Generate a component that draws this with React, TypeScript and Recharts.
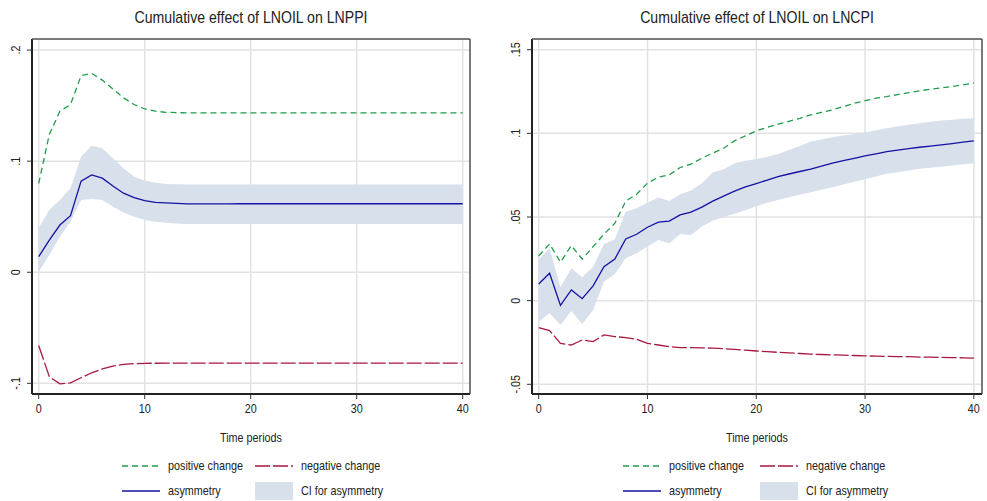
import React from 'react';
import { ComposedChart, Line, Area, XAxis, YAxis, CartesianGrid } from 'recharts';

const FONT = '"Liberation Sans", Arial, sans-serif';
const NARROW = 0.83; // the source uses a condensed face

const periods = [
  0, 1, 2, 3, 4, 5, 6, 7, 8, 9, 10, 11, 12, 13, 14, 15, 16, 17, 18, 19, 20,
  21, 22, 23, 24, 25, 26, 27, 28, 29, 30, 31, 32, 33, 34, 35, 36, 37, 38, 39, 40,
];
const xTicks = [0, 10, 20, 30, 40];

// LNPPI panel
const ppiPositive = [
  0.080, 0.124, 0.145, 0.151, 0.177, 0.179, 0.173, 0.165, 0.157, 0.151, 0.147,
  0.145, 0.144, 0.1437, 0.1435, 0.1435, 0.1435, 0.1435, 0.1435, 0.1435, 0.1435,
  0.1435, 0.1435, 0.1435, 0.1435, 0.1435, 0.1435, 0.1435, 0.1435, 0.1435, 0.1435,
  0.1435, 0.1435, 0.1435, 0.1435, 0.1435, 0.1435, 0.1435, 0.1435, 0.1435, 0.1435,
];
const ppiNegative = [
  -0.066, -0.094, -0.1005, -0.0995, -0.095, -0.0905, -0.087, -0.0845, -0.083, -0.0823, -0.082,
  -0.0819, -0.0818, -0.0818, -0.0818, -0.0818, -0.0818, -0.0818, -0.0818, -0.0818, -0.0818,
  -0.0818, -0.0818, -0.0818, -0.0818, -0.0818, -0.0818, -0.0818, -0.0818, -0.0818, -0.0818,
  -0.0818, -0.0818, -0.0818, -0.0818, -0.0818, -0.0818, -0.0818, -0.0818, -0.0818, -0.0818,
];
const ppiAsym = [
  0.014, 0.029, 0.0425, 0.051, 0.082, 0.0877, 0.0847, 0.0777, 0.0712, 0.0672, 0.0645,
  0.063, 0.0625, 0.062, 0.0615, 0.0615, 0.0615, 0.0615, 0.0615, 0.0617, 0.0617,
  0.0617, 0.0617, 0.0617, 0.0617, 0.0617, 0.0617, 0.0617, 0.0617, 0.0617, 0.0617,
  0.0617, 0.0617, 0.0617, 0.0617, 0.0617, 0.0617, 0.0617, 0.0617, 0.0617, 0.0617,
];
const ppiCiHigh = [
  0.040, 0.056, 0.065, 0.0757, 0.104, 0.1138, 0.1117, 0.1027, 0.0937, 0.086, 0.0825,
  0.0805, 0.0795, 0.0792, 0.079, 0.079, 0.079, 0.079, 0.079, 0.079, 0.079,
  0.079, 0.079, 0.079, 0.079, 0.079, 0.079, 0.079, 0.079, 0.079, 0.079,
  0.079, 0.079, 0.079, 0.079, 0.079, 0.079, 0.079, 0.079, 0.079, 0.079,
];
const ppiCiLow = [
  0.0005, 0.0156, 0.032, 0.0456, 0.065, 0.066, 0.065, 0.059, 0.0537, 0.050, 0.047,
  0.0455, 0.0445, 0.044, 0.0435, 0.0435, 0.0435, 0.0435, 0.0435, 0.0435, 0.0435,
  0.0435, 0.0435, 0.0435, 0.0435, 0.0435, 0.0435, 0.0435, 0.0435, 0.0435, 0.0435,
  0.0435, 0.0435, 0.0435, 0.0435, 0.0435, 0.0435, 0.0435, 0.0435, 0.0435, 0.0435,
];
const ppiYTicks = [-0.1, 0, 0.1, 0.2];

// LNCPI panel
const cpiPositive = [
  0.0267, 0.0339, 0.023, 0.0329, 0.0248, 0.0323, 0.0397, 0.0463, 0.0595, 0.0636, 0.0702,
  0.0738, 0.0752, 0.0796, 0.0816, 0.0852, 0.0882, 0.0911, 0.0955, 0.0985, 0.1015,
  0.1035, 0.1055, 0.1072, 0.109, 0.111, 0.1125, 0.114, 0.116, 0.118, 0.1195,
  0.121, 0.122, 0.1232, 0.1243, 0.1254, 0.1264, 0.1272, 0.128, 0.129, 0.130,
];
const cpiNegative = [
  -0.0161, -0.0179, -0.0255, -0.0265, -0.0235, -0.0245, -0.0205, -0.0215, -0.0221, -0.0231, -0.0255,
  -0.0265, -0.0275, -0.0281, -0.0281, -0.0282, -0.0284, -0.0287, -0.0291, -0.0296, -0.0301,
  -0.0305, -0.0309, -0.0312, -0.0316, -0.032, -0.0322, -0.0324, -0.0326, -0.0328, -0.033,
  -0.0332, -0.0333, -0.0334, -0.0335, -0.0337, -0.0338, -0.0339, -0.034, -0.0342, -0.0343,
];
const cpiAsym = [
  0.010, 0.0164, -0.0028, 0.0064, 0.0012, 0.0088, 0.0203, 0.0249, 0.0369, 0.0397, 0.0439,
  0.0469, 0.0475, 0.0513, 0.0529, 0.0559, 0.0595, 0.0625, 0.0655, 0.068, 0.070,
  0.072, 0.0742, 0.0757, 0.0772, 0.0786, 0.0804, 0.0822, 0.0837, 0.0851, 0.0865,
  0.0878, 0.0891, 0.09, 0.0909, 0.0917, 0.0924, 0.0931, 0.0939, 0.0947, 0.0955,
];
const cpiCiHigh = [
  0.0248, 0.0313, 0.008, 0.0194, 0.014, 0.0203, 0.0337, 0.0367, 0.0532, 0.0553, 0.0585,
  0.0616, 0.0596, 0.0636, 0.0658, 0.0702, 0.0766, 0.0786, 0.0822, 0.0836, 0.0846,
  0.086, 0.0877, 0.090, 0.0925, 0.0951, 0.0964, 0.0977, 0.0987, 0.0996, 0.1005,
  0.1018, 0.1031, 0.1041, 0.1051, 0.1061, 0.1069, 0.1077, 0.1082, 0.1087, 0.1091,
];
const cpiCiLow = [
  -0.0126, -0.0075, -0.0145, -0.0062, -0.0139, -0.0056, 0.0114, 0.016, 0.0254, 0.0283, 0.0323,
  0.0363, 0.0343, 0.0397, 0.0393, 0.0443, 0.0477, 0.050, 0.052, 0.054, 0.0565,
  0.0585, 0.0602, 0.0618, 0.0633, 0.0648, 0.0663, 0.0678, 0.0694, 0.071, 0.0726,
  0.0742, 0.0758, 0.0768, 0.0778, 0.0788, 0.0795, 0.0801, 0.0808, 0.0815, 0.0822,
];
const cpiYTicks = [-0.05, 0, 0.05, 0.1, 0.15];

const legendLabels = ['positive change', 'negative change', 'asymmetry', 'CI for asymmetry'];

const GREEN = '#1f9d4a';
const RED = '#a8173f';
const BLUE = '#1212a3';
const CI = '#d8e0ec';
const GRID = '#e2e2e2';
const GREEN_DASH = '6 4';
const RED_DASH = '15 3';

// stata style: .1, -.05, 0
const fmt = (v: number) => {
  if (v === 0) return '0';
  const s = String(Math.abs(v)).replace(/^0/, '');
  return (v < 0 ? '-' : '') + s;
};

const YTick = (props: any) => {
  const { x, y, payload } = props;
  return (
    <text
      transform={`translate(${x},${y}) rotate(-90) scale(${NARROW},1)`}
      textAnchor="middle"
      fontSize={13}
      fill="#222"
      fontFamily={FONT}
    >
      {fmt(payload.value)}
    </text>
  );
};

const XTick = (props: any) => {
  const { x, y, payload } = props;
  return (
    <text
      transform={`translate(${x},${y}) scale(${NARROW},1)`}
      textAnchor="middle"
      dy="0.8em"
      fontSize={13}
      fill="#222"
      fontFamily={FONT}
    >
      {payload.value}
    </text>
  );
};

const LegendSample = ({ kind }: { kind: number }) => {
  if (kind === 3) {
    return (
      <svg width={38} height={18}>
        <rect x={0} y={0} width={38} height={18} fill={CI} />
      </svg>
    );
  }
  const color = kind === 0 ? GREEN : kind === 1 ? RED : BLUE;
  const dash = kind === 0 ? GREEN_DASH : kind === 1 ? RED_DASH : undefined;
  return (
    <svg width={38} height={18}>
      <line x1={0} y1={9} x2={38} y2={9} stroke={color} strokeWidth={1.3} strokeDasharray={dash} />
    </svg>
  );
};

interface PanelProps {
  left: number;
  width: number;
  title: string;
  pos: number[];
  neg: number[];
  asym: number[];
  ciLow: number[];
  ciHigh: number[];
  yDomain: [number, number];
  yTicks: number[];
  xDomain: [number, number];
  plot: { top: number; right: number; bottom: number; left: number };
  legendCols: [number, number];
}

const narrowText = (origin: string): React.CSSProperties => ({
  transform: `scaleX(${NARROW})`,
  transformOrigin: origin,
});

const Panel = (p: PanelProps) => {
  const data = periods.map((t, i) => ({
    t,
    pos: p.pos[i],
    neg: p.neg[i],
    asym: p.asym[i],
    ci: [p.ciLow[i], p.ciHigh[i]],
  }));
  // axes take 1px each, so pull the margins in by one
  const margin = {
    top: p.plot.top - 1,
    right: p.plot.right - 1,
    bottom: p.plot.bottom - 1,
    left: p.plot.left - 1,
  };
  const plotW = p.width - p.plot.left - p.plot.right;
  const rows = [466, 491];

  return (
    <div style={{ position: 'absolute', left: p.left, top: 0, width: p.width, height: 501 }}>
      <div
        style={{
          position: 'absolute',
          left: p.plot.left,
          width: plotW,
          top: 7,
          textAlign: 'center',
          fontSize: 17,
          lineHeight: '22px',
          color: '#222',
          ...narrowText('center'),
        }}
      >
        {p.title}
      </div>
      <ComposedChart width={p.width} height={501} data={data} margin={margin}>
        <CartesianGrid stroke={GRID} strokeWidth={1.5} />
        <XAxis
          dataKey="t"
          type="number"
          domain={p.xDomain}
          ticks={xTicks}
          allowDataOverflow
          height={1}
          tickSize={5}
          tickMargin={4}
          tickLine={{ stroke: '#333' }}
          axisLine={{ stroke: '#222', strokeWidth: 2 }}
          tick={<XTick />}
        />
        <YAxis
          type="number"
          domain={p.yDomain}
          ticks={p.yTicks}
          allowDataOverflow
          width={1}
          tickSize={5}
          tickMargin={7}
          tickLine={{ stroke: '#333' }}
          axisLine={{ stroke: '#222', strokeWidth: 2 }}
          tick={<YTick />}
        />
        <XAxis
          xAxisId="top"
          orientation="top"
          dataKey="t"
          type="number"
          domain={p.xDomain}
          allowDataOverflow
          height={1}
          tick={false}
          tickLine={false}
          axisLine={{ stroke: '#555', strokeWidth: 1.5 }}
        />
        <YAxis
          yAxisId="right"
          orientation="right"
          type="number"
          domain={p.yDomain}
          allowDataOverflow
          width={1}
          tick={false}
          tickLine={false}
          axisLine={{ stroke: '#555', strokeWidth: 1.5 }}
        />
        <Area
          type="linear"
          dataKey="ci"
          fill={CI}
          fillOpacity={1}
          stroke="none"
          isAnimationActive={false}
        />
        <Line type="linear" dataKey="pos" stroke={GREEN} strokeWidth={1.3} strokeDasharray={GREEN_DASH} dot={false} isAnimationActive={false} />
        <Line type="linear" dataKey="neg" stroke={RED} strokeWidth={1.3} strokeDasharray={RED_DASH} dot={false} isAnimationActive={false} />
        <Line type="linear" dataKey="asym" stroke={BLUE} strokeWidth={1.3} dot={false} isAnimationActive={false} />
      </ComposedChart>
      <div
        style={{
          position: 'absolute',
          left: p.plot.left,
          width: plotW,
          top: 429,
          textAlign: 'center',
          fontSize: 13,
          lineHeight: '18px',
          color: '#222',
          ...narrowText('center'),
        }}
      >
        Time periods
      </div>
      {legendLabels.map((label, i) => {
        const x = p.legendCols[i % 2];
        const cy = rows[Math.floor(i / 2)];
        return (
          <div key={label}>
            <div style={{ position: 'absolute', left: x, top: cy - 9, width: 38, height: 18 }}>
              <LegendSample kind={i} />
            </div>
            <div
              style={{
                position: 'absolute',
                left: x + 46,
                top: cy - 9,
                fontSize: 13,
                lineHeight: '18px',
                color: '#222',
                whiteSpace: 'nowrap',
                ...narrowText('left'),
              }}
            >
              {label}
            </div>
          </div>
        );
      })}
    </div>
  );
};

export default function App() {
  return (
    <div
      style={{
        position: 'absolute',
        left: 0,
        top: 0,
        width: 987,
        height: 501,
        background: '#fff',
        fontFamily: FONT,
        overflow: 'hidden',
      }}
    >
      <Panel
        left={0}
        width={493}
        title="Cumulative effect of LNOIL on LNPPI"
        pos={ppiPositive}
        neg={ppiNegative}
        asym={ppiAsym}
        ciLow={ppiCiLow}
        ciHigh={ppiCiHigh}
        yDomain={[-0.1096, 0.21]}
        yTicks={ppiYTicks}
        xDomain={[-0.632, 40.69]}
        plot={{ top: 39, right: 23, bottom: 107, left: 32 }}
        legendCols={[122, 255]}
      />
      <Panel
        left={493}
        width={494}
        title="Cumulative effect of LNOIL on LNCPI"
        pos={cpiPositive}
        neg={cpiNegative}
        asym={cpiAsym}
        ciLow={cpiCiLow}
        ciHigh={cpiCiHigh}
        yDomain={[-0.0558, 0.1564]}
        yTicks={cpiYTicks}
        xDomain={[-0.616, 40.75]}
        plot={{ top: 39, right: 5, bottom: 107, left: 39 }}
        legendCols={[130, 267]}
      />
    </div>
  );
}
